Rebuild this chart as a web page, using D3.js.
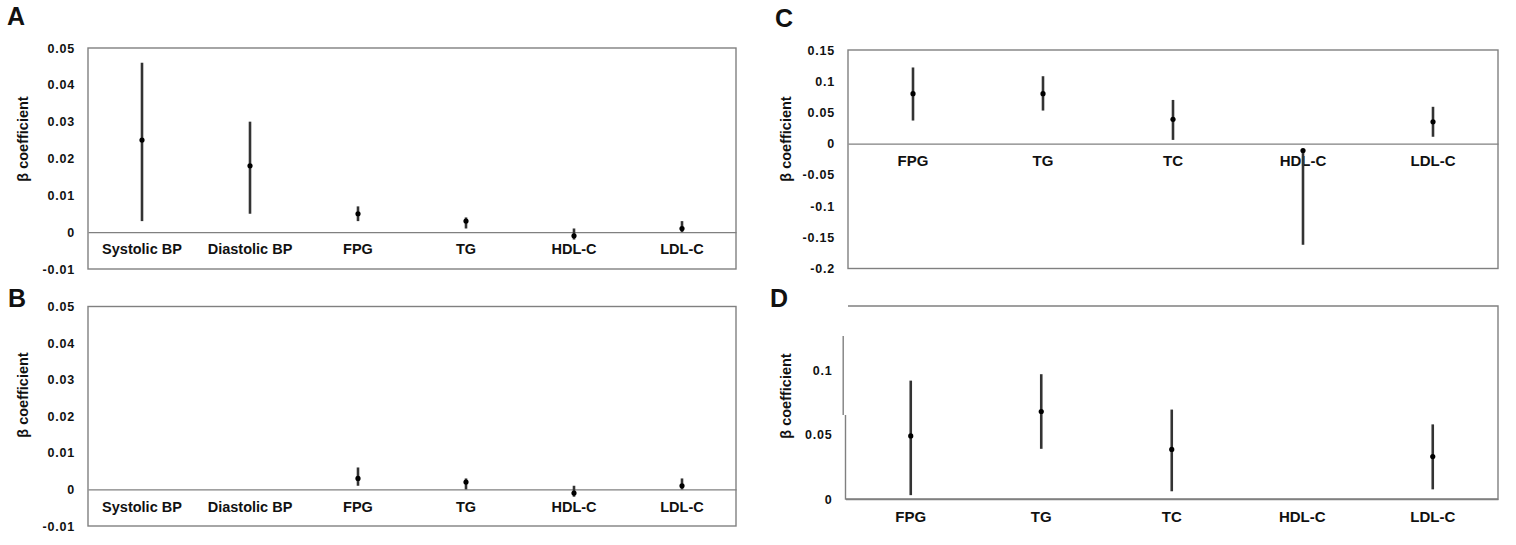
<!DOCTYPE html>
<html>
<head>
<meta charset="utf-8">
<script src="https://cdn.jsdelivr.net/npm/d3@7"></script>
<style>
  body { margin: 0; background: #fff; }
  text { font-family: "Liberation Sans", Arial, sans-serif; font-weight: bold; fill: #111; }
</style>
</head>
<body>
<div id="chart"></div>
<script>
// categories
var catsAB = ["Systolic BP", "Diastolic BP", "FPG", "TG", "HDL-C", "LDL-C"];
var catsCD = ["FPG", "TG", "TC", "HDL-C", "LDL-C"];

// beta coefficient with lower / upper 95% CI (null = not shown)
var estA = [0.025, 0.018, 0.005, 0.003, -0.001, 0.001];
var lowA = [0.003, 0.005, 0.003, 0.001, -0.002, 0.0];
var highA = [0.046, 0.030, 0.007, 0.004, 0.001, 0.003];

var estB = [null, null, 0.003, 0.002, -0.001, 0.001];
var lowB = [null, null, 0.001, 0.0, -0.002, 0.0];
var highB = [null, null, 0.006, 0.003, 0.001, 0.003];

var estC = [0.080, 0.080, 0.039, -0.011, 0.035];
var lowC = [0.037, 0.053, 0.006, -0.162, 0.011];
var highC = [0.122, 0.108, 0.070, -0.010, 0.059];

var estD = [0.049, 0.068, 0.0385, null, 0.033];
var lowD = [0.003, 0.039, 0.006, null, 0.0075];
var highD = [0.092, 0.097, 0.0695, null, 0.058];

// tick labels
var ticksAB = [-0.01, 0, 0.01, 0.02, 0.03, 0.04, 0.05];
var tickLabelsAB = ["-0.01", "0", "0.01", "0.02", "0.03", "0.04", "0.05"];
var ticksC = [-0.2, -0.15, -0.1, -0.05, 0, 0.05, 0.1, 0.15];
var tickLabelsC = ["-0.2", "-0.15", "-0.1", "-0.05", "0", "0.05", "0.1", "0.15"];
var ticksD = [0, 0.05, 0.1];
var tickLabelsD = ["0", "0.05", "0.1"];

var svg = d3.select("#chart")
  .append("svg")
  .attr("width", 1516)
  .attr("height", 545);

// panel layout
var panels = [
  { letter: "A", lx: 7, ly: 25, x0: 88, x1: 736, y0: 48, y1: 269, domain: [-0.01, 0.05],
    cats: catsAB, est: estA, low: lowA, high: highA, ticks: ticksAB, labels: tickLabelsAB,
    labelX: 23, labelY: 139, labelSize: 14.5 },
  { letter: "B", lx: 8, ly: 307, x0: 88, x1: 736, y0: 306.5, y1: 526, domain: [-0.01, 0.05],
    cats: catsAB, est: estB, low: lowB, high: highB, ticks: ticksAB, labels: tickLabelsAB,
    labelX: 23, labelY: 395, labelSize: 14.5 },
  { letter: "C", lx: 775, ly: 27, x0: 848, x1: 1498, y0: 50, y1: 268.5, domain: [-0.2, 0.15],
    cats: catsCD, est: estC, low: lowC, high: highC, ticks: ticksC, labels: tickLabelsC,
    labelX: 786, labelY: 139, labelSize: 15 },
  { letter: "D", lx: 770, ly: 307, x0: 845.5, x1: 1498, y0: 306, y1: 499, domain: [0, 0.15],
    cats: catsCD, est: estD, low: lowD, high: highD, ticks: ticksD, labels: tickLabelsD,
    labelX: 786, labelY: 396, labelSize: 15, openLeft: 336 }
];

panels.forEach(function(p) {
  var g = svg.append("g");

  var x = d3.scaleBand()
    .domain(p.cats)
    .range([p.x0, p.x1]);

  var y = d3.scaleLinear()
    .domain(p.domain)
    .range([p.y1, p.y0]);

  // frame
  if (p.openLeft) {
    // panel D: left edge missing at the top, with a small jog
    g.append("path")
      .attr("d", `M${p.x0 - 2.3},${p.openLeft}V415M${p.x0},415V${p.y1}H${p.x1}V${p.y0}H${p.x0 + 2.5}`)
      .attr("fill", "none")
      .attr("stroke", "#808080")
      .attr("stroke-width", 1.4);
  } else {
    g.append("rect")
      .attr("x", p.x0)
      .attr("y", p.y0)
      .attr("width", p.x1 - p.x0)
      .attr("height", p.y1 - p.y0)
      .attr("fill", "none")
      .attr("stroke", "#808080")
      .attr("stroke-width", 1.4);
  }

  // y axis (labels only)
  var leftAxis = d3.axisLeft(y)
    .tickValues(p.ticks)
    .tickFormat(function(d, i) { return p.labels[i]; })
    .tickSize(0)
    .tickPadding(13);

  g.append("g")
    .attr("transform", `translate(${p.x0}, 0)`)
    .call(leftAxis)
    .call(function(a) { a.select(".domain").remove(); })
    .selectAll("text")
    .style("font-size", "12.5px")
    .style("letter-spacing", "0.8px")
    .style("font-family", "\"Liberation Sans\", Arial, sans-serif")
    .attr("fill", "#111");

  // zero line + category labels
  var bottomAxis = d3.axisBottom(x)
    .tickSize(0)
    .tickPadding(12);

  var xg = g.append("g")
    .attr("transform", `translate(0, ${y(0)})`)
    .call(bottomAxis);

  xg.select(".domain")
    .attr("stroke", "#808080")
    .attr("stroke-width", 1.4);

  xg.selectAll("text")
    .style("font-size", p.labelSize + "px")
    .style("font-family", "\"Liberation Sans\", Arial, sans-serif")
    .attr("fill", "#111");

  // error bars
  var rows = p.cats.map(function(c, i) {
    return { cat: c, est: p.est[i], low: p.low[i], high: p.high[i] };
  }).filter(function(d) { return d.est !== null; });

  g.selectAll(".ci")
    .data(rows)
    .enter()
    .append("line")
    .attr("x1", d => x(d.cat) + x.bandwidth() / 2)
    .attr("x2", d => x(d.cat) + x.bandwidth() / 2)
    .attr("y1", d => y(d.low))
    .attr("y2", d => y(d.high))
    .attr("stroke", "#333")
    .attr("stroke-width", 2.6);

  g.selectAll(".pt")
    .data(rows)
    .enter()
    .append("circle")
    .attr("cx", d => x(d.cat) + x.bandwidth() / 2)
    .attr("cy", d => y(d.est))
    .attr("r", 2.6)
    .attr("fill", "#000");

  // y axis title
  g.append("text")
    .attr("transform", `translate(${p.labelX}, ${p.labelY}) rotate(-90)`)
    .attr("text-anchor", "middle")
    .attr("dy", "0.35em")
    .style("font-size", "14.5px")
    .text("β coefficient");

  // panel letter
  g.append("text")
    .attr("x", p.lx)
    .attr("y", p.ly)
    .style("font-size", "25px")
    .attr("fill", "#000")
    .text(p.letter);
});
</script>
</body>
</html>
